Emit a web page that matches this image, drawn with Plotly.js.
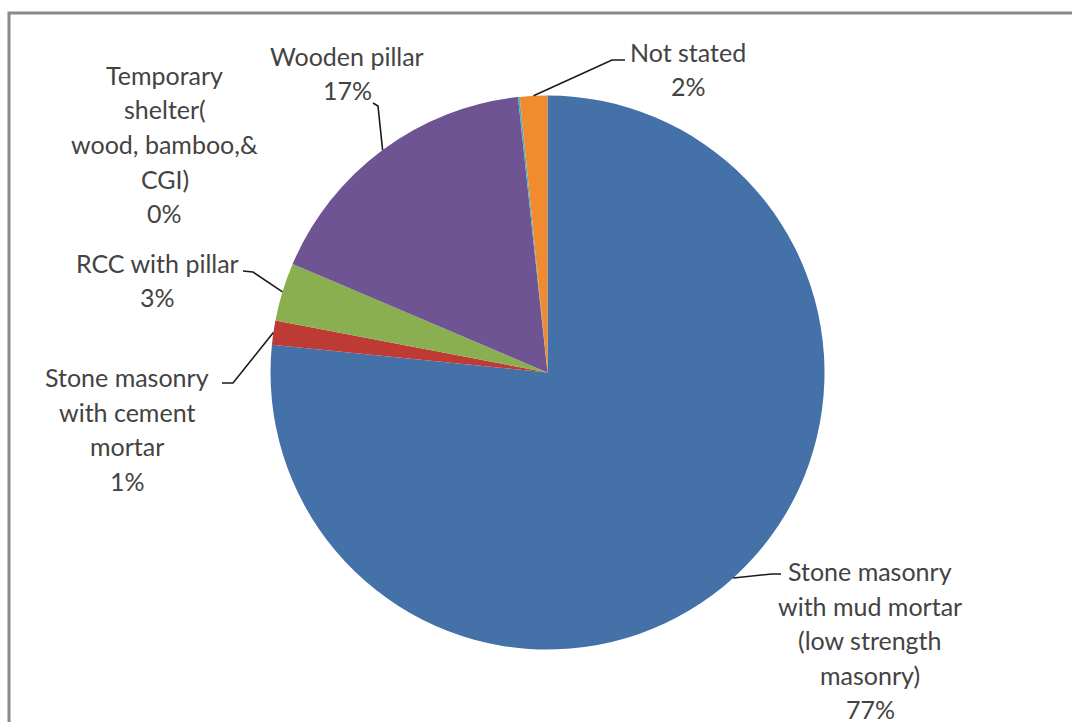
<!DOCTYPE html>
<html>
<head>
<meta charset="utf-8">
<script src="https://cdn.plot.ly/plotly-3.0.1.min.js"></script>
<style>
  html, body { margin: 0; padding: 0; background: #ffffff; }
  #chart { width: 1072px; height: 722px; }
</style>
</head>
<body>
<div id="chart"></div>
<script>
// Building types by share of houses (%)
const categories = [
  'Stone masonry with mud mortar (low strength masonry)',
  'Stone masonry with cement mortar',
  'RCC with pillar',
  'Wooden pillar',
  'Temporary shelter( wood, bamboo,& CGI)',
  'Not stated'
];
const shares = [76.6, 1.4, 3.4, 16.9, 0.1, 1.6];
const sliceColors = ['#4371A8', '#BE3A34', '#8AAF50', '#6F5494', '#4BACC6', '#F08C2D'];

// Wrapped label lines for each category (percent line is appended from the data)
const labelLines = [
  ['Stone masonry', 'with mud mortar', '(low strength', 'masonry)'],
  ['Stone masonry', 'with cement', 'mortar'],
  ['RCC with pillar'],
  ['Wooden pillar'],
  ['Temporary', 'shelter(', 'wood, bamboo,&', 'CGI)'],
  ['Not stated']
];

// Page layout (pixels)
const W = 1072, H = 722;
const CX = 547.5, CY = 372.5, R = 277;
const LINE_GAP = 34.5;
// label block centres
const labelCenters = [[870, 640], [127, 429], [157, 280], [347, 73], [165, 144], [688, 69]];
// leader line bends after leaving the slice edge (null = no leader)
const leaderBends = [
  [[772, 574], [781, 574]],
  [[233, 383], [222, 383]],
  [[253, 272], [243, 271]],
  [[378, 106], [373, 103]],
  null,
  [[612, 60], [625, 60]]
];

const px = x => x / W;
const py = y => 1 - y / H;

const total = shares.reduce((a, b) => a + b, 0);

const trace = {
  type: 'pie',
  labels: categories,
  values: shares,
  sort: false,
  direction: 'clockwise',
  rotation: 0,
  textinfo: 'none',
  hoverinfo: 'label+percent',
  marker: { colors: sliceColors, line: { width: 0 } },
  domain: {
    x: [px(CX - R), px(CX + R)],
    y: [py(CY + R), py(CY - R)]
  }
};

const annotations = [];
const shapes = [];

// chart frame
shapes.push({
  type: 'rect', xref: 'paper', yref: 'paper',
  x0: px(9), x1: px(W + 20), y0: py(H + 20), y1: py(13),
  line: { color: '#8a8a8a', width: 3 },
  fillcolor: 'rgba(0,0,0,0)'
});

let cum = 0;
shares.forEach((v, i) => {
  const pct = Math.round(v / total * 100) + '%';
  const lines = labelLines[i].concat([pct]);
  const [lx, ly] = labelCenters[i];
  lines.forEach((t, k) => {
    annotations.push({
      xref: 'paper', yref: 'paper',
      x: px(lx), y: py(ly + (k - (lines.length - 1) / 2) * LINE_GAP),
      xanchor: 'center', yanchor: 'middle',
      text: t, showarrow: false,
      font: { family: 'Lato, "Open Sans", sans-serif', size: 25, color: '#434343' }
    });
  });

  // slice mid-angle, clockwise from 12 o'clock
  const mid = (cum + v / 2) / total * 2 * Math.PI;
  cum += v;
  const bends = leaderBends[i];
  if (bends) {
    const ex = CX + R * Math.sin(mid);
    const ey = CY - R * Math.cos(mid);
    let d = 'M' + px(ex) + ',' + py(ey);
    bends.forEach(p => { d += ' L' + px(p[0]) + ',' + py(p[1]); });
    shapes.push({
      type: 'path', xref: 'paper', yref: 'paper', path: d,
      line: { color: '#1a1a1a', width: 1.6 }
    });
  }
});

const layout = {
  width: W, height: H,
  margin: { l: 0, r: 0, t: 0, b: 0 },
  paper_bgcolor: '#ffffff',
  showlegend: false,
  annotations: annotations,
  shapes: shapes
};

Plotly.newPlot('chart', [trace], layout, { displayModeBar: false, staticPlot: true });
</script>
</body>
</html>
